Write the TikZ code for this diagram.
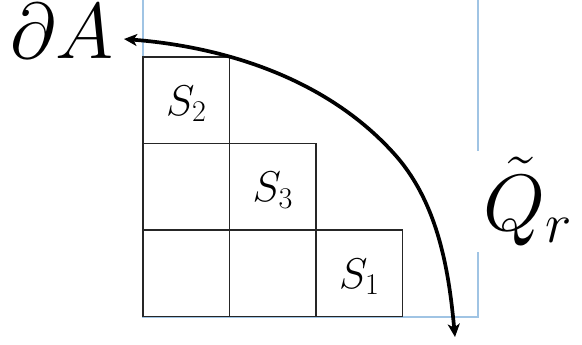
\RequirePackage{fix-cm}
\documentclass[tikz,border=0pt]{standalone}
\usetikzlibrary{arrows.meta}
\definecolor{frameblue}{RGB}{160,196,228}
\tikzset{
  frameline/.style={draw=frameblue, line width=1.3pt},
  cell/.style={draw=black!85, line width=1.1pt, minimum width=86.5pt, minimum height=86.5pt, inner sep=0pt, outer sep=0pt},
  celllabel/.style={anchor=base, inner sep=0pt, font=\fontsize{43}{46}\selectfont},
  biglabel/.style={inner sep=0pt, font=\fontsize{79}{80}\selectfont},
  qlabel/.style={fill=white, inner xsep=7pt, inner ysep=6pt, font=\fontsize{80}{84}\selectfont},
  boundarc/.style={line width=3.7pt, {Stealth[length=13pt,width=12pt,inset=3.5pt]}-{Stealth[length=13pt,width=12pt,inset=3.5pt]}}
}
\begin{document}
\begin{tikzpicture}[x=1pt,y=-1pt]
\useasboundingbox (0,0) rectangle (582,345);
% outer square (light blue)
\draw[frameline] (143,0) -- (143,317) -- (478,317) -- (478,0);
% cells
\node[cell] (b2) at (186.25,100.25) {};
\node[cell] (b21) at (186.25,186.75) {};
\node[cell] (b3) at (272.75,186.75) {};
\node[cell] (b31) at (186.25,273.25) {};
\node[cell] (b32) at (272.75,273.25) {};
\node[cell] (b1) at (359.25,273.25) {};
\node[celllabel] (s2) at ([yshift=-15pt]b2.center) {$S_2$};
\node[celllabel] (s3) at ([yshift=-15pt]b3.center) {$S_3$};
\node[celllabel] (s1) at ([yshift=-15pt]b1.center) {$S_1$};
% labels
\node[biglabel, anchor=base west] (dA) at (10,59) {$\partial A$};
\node[qlabel, anchor=base west] (Q) at (476,230) {$\tilde{Q}_r$};
% boundary arc
\coordinate (arcL) at (124,39);
\coordinate (arcM) at (397,157);
\coordinate (arcR) at (455,337);
\draw[boundarc] (arcL) .. controls (227,47) and (330,80) .. (arcM) .. controls (439,206) and (449,273) .. (arcR);
\end{tikzpicture}
\end{document}
